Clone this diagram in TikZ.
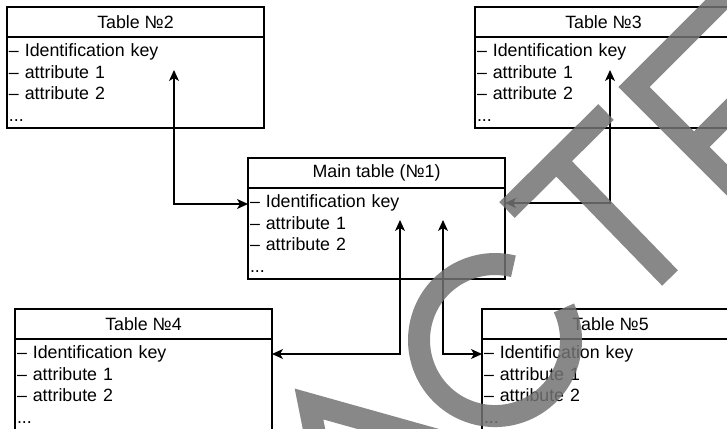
\documentclass[tikz,border=0pt]{standalone}
\usepackage{fontspec}
\setmainfont{Liberation Sans}
\usetikzlibrary{arrows.meta,positioning,calc}

% one table: name, top left corner, title
\newcommand{\dbtable}[3]{%
  \node[tabhead, anchor=north west] (#1head) at (#2) {#3};
  \node[tabbody, below=0pt of #1head] (#1) {-- Identification key\\-- attribute 1\\-- attribute 2\\...};
}

\begin{document}
\begin{tikzpicture}[x=1pt, y=1pt,
    font=\fontsize{17.8pt}{21.7pt}\selectfont,
    tabhead/.style={draw, line width=1.2pt, outer sep=0pt, inner sep=0pt,
      minimum width=257pt, minimum height=30pt},
    tabbody/.style={draw, line width=1.2pt, outer sep=0pt, inner xsep=2pt,
      text width=253pt, minimum height=91pt, align=left},
    link/.style={{Stealth[length=11pt,width=10pt,inset=3pt]}-{Stealth[length=11pt,width=10pt,inset=3pt]},
      line width=1.2pt},
    stamp/.style={draw=black!55, draw opacity=0.85, line width=22pt}]
  \useasboundingbox (0,0) rectangle (727,-428);

  \dbtable{tab2}{7,-7}{Table №2}
  \dbtable{tab3}{475,-7}{Table №3}
  \dbtable{main}{248,-158}{Main table (№1)}
  \dbtable{tab4}{15,-309}{Table №4}
  \dbtable{tab5}{482,-309}{Table №5}

  % links between the tables
  \coordinate (key2) at (174,-70);
  \coordinate (key3) at (610,-70);
  \coordinate (key4) at (400,-220);
  \coordinate (key5) at (443,-220);
  \draw[link] (key2) |- ($(main.north west)+(0,-16)$);
  \draw[link] (key3) |- ($(main.north east)+(0,-15)$);
  \draw[link] (key4) |- ($(tab4.north east)+(0,-15)$);
  \draw[link] (key5) |- ($(tab5.north west)+(0,-15)$);

  % stamp over the picture
  \draw[stamp, line join=miter] (317,-444) -- (309,-404) -- (459,-446);
  \draw[stamp] (513.4,-266.3) arc[start angle=76, end angle=385, radius=76];
  \draw[stamp] (507,-210) -- (606,-112) (556.5,-161) -- (670,-278);
  \draw[stamp, line join=miter] (734,13) -- (634,-87) -- (750,-203) (695,-146) -- (775,-66);
\end{tikzpicture}
\end{document}
